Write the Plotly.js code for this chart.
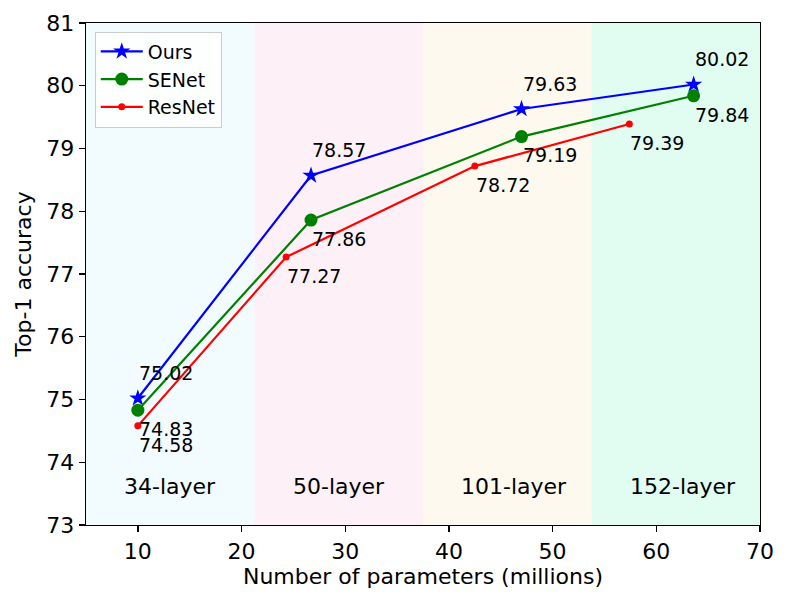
<!DOCTYPE html>
<html>
<head>
<meta charset="utf-8">
<script src="https://cdn.plot.ly/plotly-3.0.1.min.js"></script>
<style>
  html, body { margin: 0; padding: 0; background: #fff; }
  #chart { width: 789px; height: 604px; }
</style>
</head>
<body>
<div id="chart"></div>
<script>
// series
const layers = ["34-layer", "50-layer", "101-layer", "152-layer"];
const bandEdges = [5, 21.25, 37.5, 53.75, 70];
const bandColors = ["#f2fbfe", "#fef0f7", "#fdf9ef", "#e1fcf0"];

const oursX = [10, 26.7, 47.0, 63.6];
const oursY = [75.02, 78.57, 79.63, 80.02];
const seX = [10, 26.7, 47.0, 63.6];
const seY = [74.83, 77.86, 79.19, 79.84];
const resX = [10, 24.3, 42.5, 57.4];
const resY = [74.58, 77.27, 78.72, 79.39];

const C = { ours: "#0000ff", se: "#008000", res: "#ff0000", ink: "#000" };
const FONT = "DejaVu Sans, Verdana, sans-serif";

const line = (x, y, name, color, symbol, size) => ({
  x, y, name, type: "scatter", mode: "lines+markers",
  line: { color, width: 2.2 },
  marker: { color, symbol, size, line: { width: 0 } }
});

const traces = [
  line(oursX, oursY, "Ours", C.ours, "star", 13),
  line(seX, seY, "SENet", C.se, "circle", 13),
  line(resX, resY, "ResNet", C.res, "circle", 7)
];

const shapes = layers.map((_, i) => ({
  type: "rect", xref: "x", yref: "paper", layer: "below",
  x0: bandEdges[i], x1: bandEdges[i + 1], y0: 0, y1: 1,
  fillcolor: bandColors[i], line: { width: 0 }
}));

// value labels: Ours above the point, the others below
const label = (xs, ys, dy) => xs.map((x, i) => ({
  x, y: ys[i] + dy, xref: "x", yref: "y", text: ys[i].toFixed(2),
  showarrow: false, xanchor: "left", yanchor: "middle", xshift: -1,
  font: { family: FONT, size: 19, color: C.ink }
}));

const layerNotes = layers.map((t, i) => ({
  x: bandEdges[i] + 3.5, y: 73.61, xref: "x", yref: "y", text: t,
  showarrow: false, xanchor: "left", yanchor: "middle",
  font: { family: FONT, size: 22, color: C.ink }
}));

const layout = {
  width: 789, height: 604,
  margin: { l: 86, r: 29, t: 23, b: 79 },
  paper_bgcolor: "#fff", plot_bgcolor: "#fff",
  font: { family: FONT, color: C.ink, size: 22 },
  showlegend: true,
  legend: {
    x: 0.013, y: 0.983, xanchor: "left", yanchor: "top",
    bgcolor: "rgba(255,255,255,0.85)", bordercolor: "#cccccc", borderwidth: 1,
    itemwidth: 42,
    font: { family: FONT, size: 19, color: C.ink }
  },
  xaxis: {
    range: [5, 70], tickvals: [10, 20, 30, 40, 50, 60, 70],
    showgrid: false, zeroline: false,
    showline: true, mirror: true, linecolor: "#000", linewidth: 1.3,
    ticks: "outside", ticklen: 6, tickwidth: 1.3, tickcolor: "#000",
    tickfont: { family: FONT, size: 22 },
    title: { text: "Number of parameters (millions)", font: { family: FONT, size: 22 }, standoff: 4 }
  },
  yaxis: {
    range: [73, 81], tickvals: [73, 74, 75, 76, 77, 78, 79, 80, 81],
    showgrid: false, zeroline: false,
    showline: true, mirror: true, linecolor: "#000", linewidth: 1.3,
    ticks: "outside", ticklen: 6, tickwidth: 1.3, tickcolor: "#000",
    tickfont: { family: FONT, size: 22 },
    title: { text: "Top-1 accuracy", font: { family: FONT, size: 22 }, standoff: 8 }
  },
  shapes,
  annotations: [
    ...label(oursX, oursY, 0.4),
    ...label(seX, seY, -0.3),
    ...label(resX, resY, -0.3),
    ...layerNotes
  ]
};

Plotly.newPlot("chart", traces, layout, { displayModeBar: false, staticPlot: true });
</script>
</body>
</html>
